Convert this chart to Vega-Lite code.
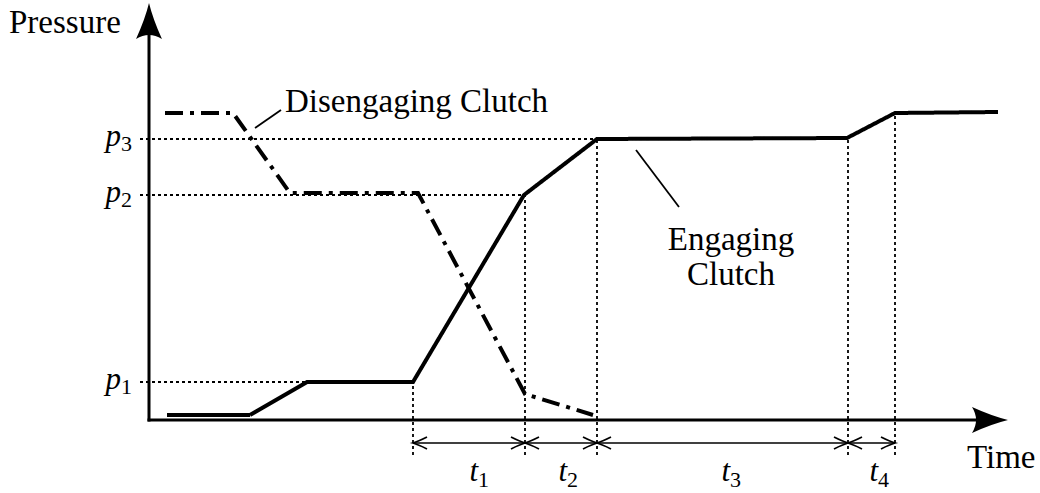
{
  "$schema": "https://vega.github.io/schema/vega-lite/v6.json",
  "width": 1040,
  "height": 493,
  "autosize": {"type": "fit", "contains": "padding"},
  "padding": 0,
  "background": "white",
  "config": {"view": {"stroke": null}},
  "datasets": {
    "curves": [
      {"series": "Engaging", "i": 0, "t": 167, "p": 78},
      {"series": "Engaging", "i": 1, "t": 250, "p": 78},
      {"series": "Engaging", "i": 2, "t": 307, "p": 111},
      {"series": "Engaging", "i": 3, "t": 413, "p": 111},
      {"series": "Engaging", "i": 4, "t": 524, "p": 298},
      {"series": "Engaging", "i": 5, "t": 597, "p": 354},
      {"series": "Engaging", "i": 6, "t": 847, "p": 355},
      {"series": "Engaging", "i": 7, "t": 895, "p": 380},
      {"series": "Engaging", "i": 8, "t": 998, "p": 381},
      {"series": "Disengaging", "i": 0, "t": 165, "p": 380},
      {"series": "Disengaging", "i": 1, "t": 233, "p": 380},
      {"series": "Disengaging", "i": 2, "t": 290, "p": 300},
      {"series": "Disengaging", "i": 3, "t": 418, "p": 300},
      {"series": "Disengaging", "i": 4, "t": 525, "p": 99},
      {"series": "Disengaging", "i": 5, "t": 593, "p": 78}
    ],
    "hlines": [
      {"x0": 140, "x1": 597, "p": 354, "sub": "3"},
      {"x0": 140, "x1": 524, "p": 298, "sub": "2"},
      {"x0": 140, "x1": 413, "p": 111, "sub": "1"}
    ],
    "vlines": [
      {"x": 413, "y0": 38, "y1": 111},
      {"x": 525, "y0": 38, "y1": 298},
      {"x": 597, "y0": 38, "y1": 354},
      {"x": 848, "y0": 38, "y1": 355},
      {"x": 895, "y0": 38, "y1": 380}
    ],
    "intervals": [
      {"start": 413, "end": 525, "sub": "1", "lx": 478},
      {"start": 525, "end": 597, "sub": "2", "lx": 567},
      {"start": 597, "end": 848, "sub": "3", "lx": 730},
      {"start": 848, "end": 895, "sub": "4", "lx": 878}
    ],
    "axes": [
      {"x": 149, "y": 73, "x2": 149, "y2": 470},
      {"x": 149, "y": 73, "x2": 985, "y2": 73}
    ],
    "leaders": [
      {"x": 255, "y": 365, "x2": 281, "y2": 383},
      {"x": 636, "y": 343, "x2": 679, "y2": 286}
    ],
    "labels": [
      {"text": "Pressure", "x": 9, "y": 460, "anchor": "left"},
      {"text": "Disengaging Clutch", "x": 285, "y": 381, "anchor": "left"},
      {"text": "Time", "x": 967, "y": 25, "anchor": "left"},
      {"text": "Engaging", "x": 731, "y": 243, "anchor": "center"},
      {"text": "Clutch", "x": 731, "y": 208, "anchor": "center"}
    ]
  },
  "layer": [
    {
      "data": {"name": "hlines"},
      "mark": {"type": "rule", "strokeWidth": 1.8, "strokeDash": [3, 3], "color": "black"},
      "encoding": {
        "x": {"field": "x0", "type": "quantitative", "scale": {"domain": [0, 1040], "nice": false, "zero": false}, "axis": null},
        "x2": {"field": "x1"},
        "y": {"field": "p", "type": "quantitative", "scale": {"domain": [0, 493], "nice": false, "zero": false}, "axis": null}
      }
    },
    {
      "data": {"name": "vlines"},
      "mark": {"type": "rule", "strokeWidth": 1.8, "strokeDash": [3, 3], "color": "black"},
      "encoding": {
        "x": {"field": "x", "type": "quantitative"},
        "y": {"field": "y0", "type": "quantitative"},
        "y2": {"field": "y1"}
      }
    },
    {
      "data": {"name": "axes"},
      "mark": {"type": "rule", "strokeWidth": 3, "color": "black", "strokeCap": "square"},
      "encoding": {
        "x": {"field": "x", "type": "quantitative"},
        "y": {"field": "y", "type": "quantitative"},
        "x2": {"field": "x2"},
        "y2": {"field": "y2"}
      }
    },
    {
      "data": {"name": "axes"},
      "transform": [{"filter": "datum.x2 > 500"}],
      "mark": {"type": "point", "filled": true, "color": "black", "opacity": 1, "size": 1296, "strokeWidth": 0,
        "shape": "M0,0 Q-0.9,-0.22 -2,-0.72 Q-1.55,0 -2,0.72 Q-0.9,0.22 0,0 Z"},
      "encoding": {
        "x": {"datum": 1008, "type": "quantitative"},
        "y": {"field": "y", "type": "quantitative"}
      }
    },
    {
      "data": {"name": "axes"},
      "transform": [{"filter": "datum.y2 > 300"}],
      "mark": {"type": "point", "filled": true, "color": "black", "opacity": 1, "size": 1296, "strokeWidth": 0, "angle": 270,
        "shape": "M0,0 Q-0.9,-0.22 -2,-0.72 Q-1.55,0 -2,0.72 Q-0.9,0.22 0,0 Z"},
      "encoding": {
        "x": {"field": "x", "type": "quantitative"},
        "y": {"datum": 490, "type": "quantitative"}
      }
    },
    {
      "data": {"name": "curves"},
      "mark": {"type": "line", "strokeWidth": 4, "color": "black", "strokeJoin": "miter", "strokeCap": "butt"},
      "encoding": {
        "x": {"field": "t", "type": "quantitative"},
        "y": {"field": "p", "type": "quantitative"},
        "order": {"field": "i"},
        "detail": {"field": "series"},
        "strokeDash": {"field": "series", "type": "nominal", "scale": {"domain": ["Engaging", "Disengaging"], "range": [[1, 0], [18, 7, 4, 7]]}, "legend": null}
      }
    },
    {
      "data": {"name": "leaders"},
      "mark": {"type": "rule", "strokeWidth": 1.8, "color": "black"},
      "encoding": {
        "x": {"field": "x", "type": "quantitative"},
        "y": {"field": "y", "type": "quantitative"},
        "x2": {"field": "x2"},
        "y2": {"field": "y2"}
      }
    },
    {
      "data": {"name": "intervals"},
      "mark": {"type": "rule", "strokeWidth": 1.6, "color": "black"},
      "encoding": {
        "x": {"field": "start", "type": "quantitative"},
        "x2": {"field": "end"},
        "y": {"datum": 50, "type": "quantitative"}
      }
    },
    {
      "data": {"name": "intervals"},
      "mark": {"type": "point", "filled": false, "color": "black", "opacity": 1, "size": 196, "strokeWidth": 1.8, "angle": 180,
        "shape": "M-2,-0.85 Q-0.7,-0.2 0,0 Q-0.7,0.2 -2,0.85"},
      "encoding": {
        "x": {"field": "start", "type": "quantitative"},
        "y": {"datum": 50, "type": "quantitative"}
      }
    },
    {
      "data": {"name": "intervals"},
      "mark": {"type": "point", "filled": false, "color": "black", "opacity": 1, "size": 196, "strokeWidth": 1.8,
        "shape": "M-2,-0.85 Q-0.7,-0.2 0,0 Q-0.7,0.2 -2,0.85"},
      "encoding": {
        "x": {"field": "end", "type": "quantitative"},
        "y": {"datum": 50, "type": "quantitative"}
      }
    },
    {
      "data": {"name": "intervals"},
      "mark": {"type": "text", "font": "Liberation Serif", "fontStyle": "italic", "fontSize": 31, "align": "right", "baseline": "alphabetic", "color": "black"},
      "encoding": {
        "x": {"field": "lx", "type": "quantitative"},
        "y": {"datum": 12, "type": "quantitative"},
        "text": {"value": "t"}
      }
    },
    {
      "data": {"name": "intervals"},
      "mark": {"type": "text", "font": "Liberation Serif", "fontSize": 22, "align": "left", "baseline": "alphabetic", "dy": 6, "color": "black"},
      "encoding": {
        "x": {"field": "lx", "type": "quantitative"},
        "y": {"datum": 12, "type": "quantitative"},
        "text": {"field": "sub"}
      }
    },
    {
      "data": {"name": "hlines"},
      "mark": {"type": "text", "font": "Liberation Serif", "fontStyle": "italic", "fontSize": 31, "align": "right", "baseline": "alphabetic", "dy": 7, "color": "black"},
      "encoding": {
        "x": {"datum": 121, "type": "quantitative"},
        "y": {"field": "p", "type": "quantitative"},
        "text": {"value": "p"}
      }
    },
    {
      "data": {"name": "hlines"},
      "mark": {"type": "text", "font": "Liberation Serif", "fontSize": 22, "align": "left", "baseline": "alphabetic", "dy": 12, "color": "black"},
      "encoding": {
        "x": {"datum": 121, "type": "quantitative"},
        "y": {"field": "p", "type": "quantitative"},
        "text": {"field": "sub"}
      }
    },
    {
      "data": {"name": "labels"},
      "transform": [{"filter": "datum.anchor == 'left'"}],
      "mark": {"type": "text", "font": "Liberation Serif", "fontSize": 33, "align": "left", "baseline": "alphabetic", "color": "black"},
      "encoding": {
        "x": {"field": "x", "type": "quantitative"},
        "y": {"field": "y", "type": "quantitative"},
        "text": {"field": "text"}
      }
    },
    {
      "data": {"name": "labels"},
      "transform": [{"filter": "datum.anchor == 'center'"}],
      "mark": {"type": "text", "font": "Liberation Serif", "fontSize": 33, "align": "center", "baseline": "alphabetic", "color": "black"},
      "encoding": {
        "x": {"field": "x", "type": "quantitative"},
        "y": {"field": "y", "type": "quantitative"},
        "text": {"field": "text"}
      }
    }
  ]
}
